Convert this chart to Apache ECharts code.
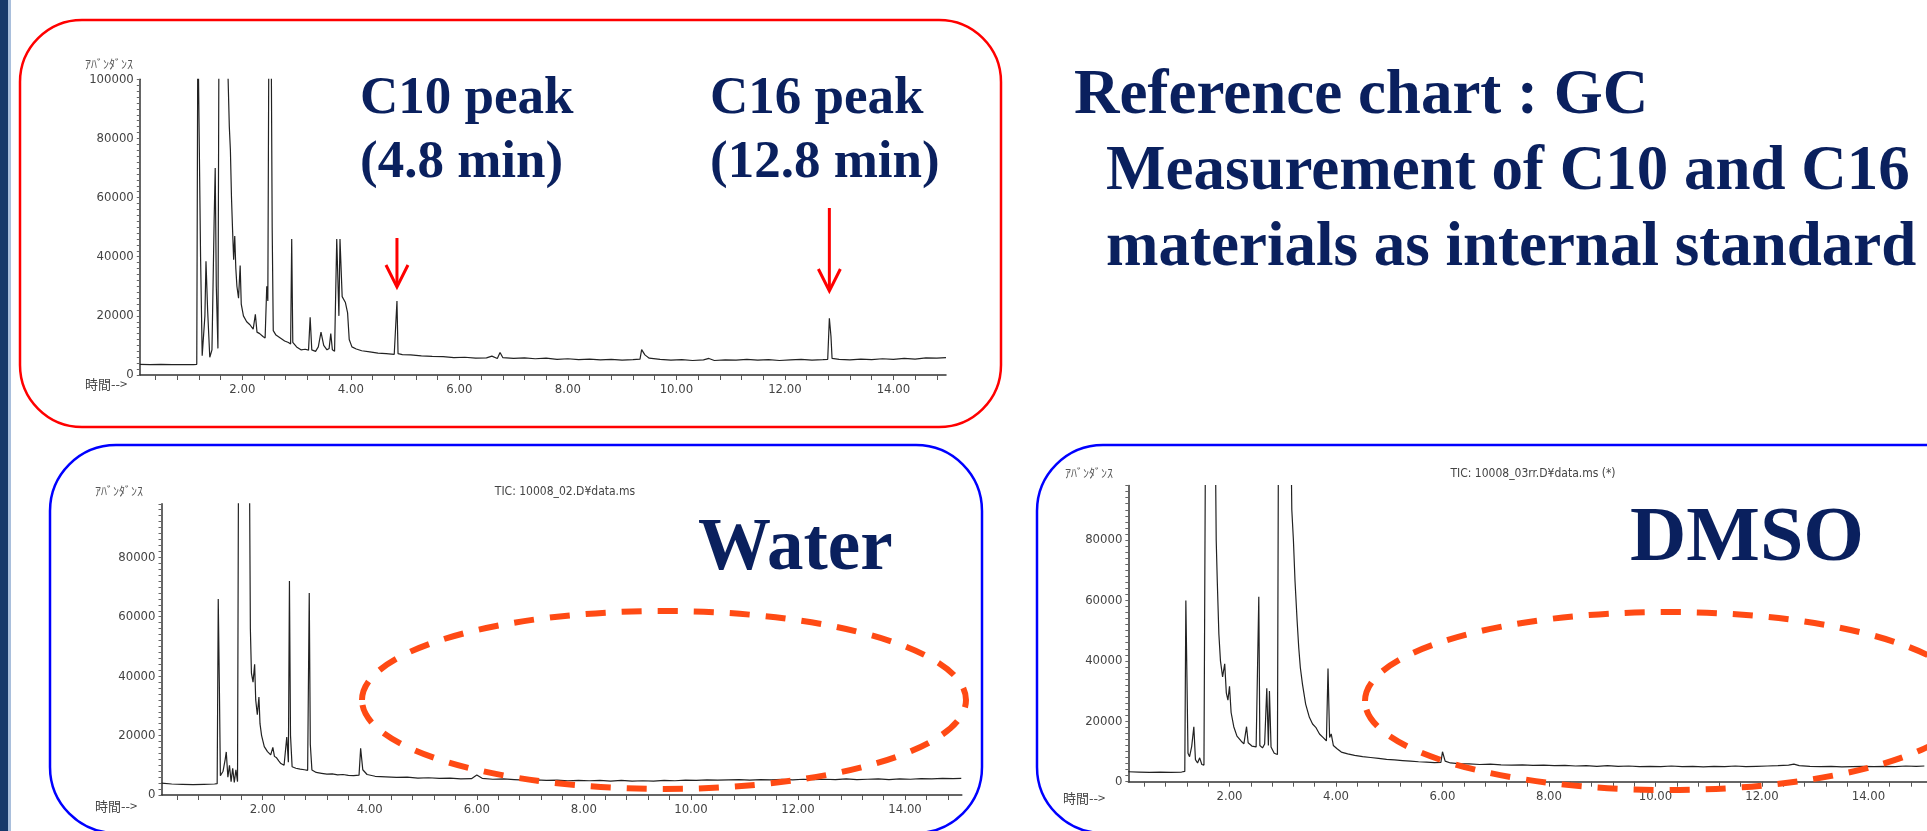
<!DOCTYPE html>
<html><head><meta charset="utf-8">
<script src="https://cdn.jsdelivr.net/npm/echarts@6/dist/echarts.min.js"></script>
<style>html,body{margin:0;padding:0;background:#fff;overflow:hidden}#c{width:1927px;height:831px}</style>
</head><body><div id="c"></div>
<script>
// ---- data: [retention time (min), abundance]; saturated (off-scale) peaks are given above the axis top ----
const refTrace = [[0.11,3600],[0.3,3500],[0.5,3600],[0.7,3500],[0.9,3550],[1.1,3500],[1.16,3600],[1.18,120000],[1.20,120000],[1.23,40000],[1.26,6500],[1.31,20000],[1.33,38500],[1.36,22000],[1.40,6000],[1.44,8500],[1.48,52000],[1.50,70000],[1.52,30000],[1.55,9000],[1.57,120000],[1.71,120000],[1.74,120000],[1.76,84000],[1.78,76000],[1.80,60000],[1.82,49000],[1.84,39000],[1.86,47000],[1.88,36000],[1.90,30000],[1.93,26000],[1.96,37000],[1.98,24000],[2.02,20000],[2.08,18000],[2.14,17000],[2.20,15500],[2.24,20500],[2.27,14500],[2.32,14000],[2.38,13000],[2.42,12500],[2.45,30000],[2.47,25000],[2.49,120000],[2.53,120000],[2.55,50000],[2.57,15000],[2.62,13500],[2.70,12500],[2.78,11500],[2.85,11000],[2.89,10500],[2.91,46000],[2.93,11000],[3.00,9500],[3.08,8500],[3.16,8700],[3.22,8400],[3.25,19500],[3.28,8500],[3.35,8000],[3.40,9500],[3.45,14500],[3.50,10000],[3.56,8500],[3.60,9000],[3.63,14000],[3.66,8500],[3.70,8000],[3.74,46000],[3.78,20000],[3.80,46000],[3.84,26500],[3.90,24500],[3.94,21000],[3.97,12000],[4.02,9500],[4.10,8800],[4.20,8200],[4.35,7800],[4.50,7400],[4.65,7200],[4.80,7000],[4.83,7100],[4.85,25000],[4.87,7200],[4.95,6900],[5.1,6800],[5.3,6500],[5.5,6300],[5.7,6200],[5.9,5900],[6.1,6000],[6.3,5700],[6.5,5800],[6.6,6400],[6.7,5600],[6.75,7600],[6.8,5900],[7.0,5600],[7.2,5800],[7.4,5500],[7.6,5700],[7.8,5300],[8.0,5500],[8.2,5200],[8.4,5400],[8.6,5100],[8.8,5300],[9.0,5000],[9.2,5200],[9.33,5400],[9.36,8600],[9.42,6800],[9.5,5700],[9.7,5300],[9.9,5000],[10.1,5200],[10.3,4900],[10.5,5100],[10.6,5600],[10.7,4900],[10.9,5100],[11.1,5000],[11.3,5300],[11.5,5000],[11.7,5200],[11.9,4900],[12.1,5100],[12.3,5300],[12.5,5000],[12.7,5200],[12.79,5300],[12.82,19200],[12.85,13000],[12.87,5600],[13.0,5300],[13.2,5100],[13.4,5400],[13.6,5200],[13.8,5500],[14.0,5300],[14.2,5600],[14.4,5400],[14.6,5800],[14.8,5700],[14.97,5900]];

const waterTrace = [[0.11,4000],[0.3,3700],[0.5,3600],[0.7,3500],[0.9,3600],[1.1,3700],[1.15,3800],[1.17,66000],[1.19,38000],[1.21,6500],[1.26,8000],[1.30,12000],[1.32,14500],[1.35,6000],[1.38,10000],[1.41,4500],[1.44,9000],[1.47,4200],[1.50,8500],[1.53,4500],[1.55,120000],[1.75,120000],[1.77,56000],[1.79,41000],[1.82,38000],[1.85,44000],[1.87,32000],[1.90,27000],[1.93,33000],[1.95,24000],[1.98,20000],[2.03,16300],[2.09,14600],[2.15,13500],[2.19,16000],[2.22,13000],[2.26,12500],[2.30,11500],[2.34,10600],[2.40,10000],[2.45,19500],[2.48,11000],[2.50,72000],[2.52,20000],[2.55,9500],[2.62,9000],[2.70,8700],[2.78,8500],[2.84,8300],[2.87,68000],[2.89,17000],[2.92,8400],[3.0,7600],[3.1,7300],[3.2,7000],[3.3,7100],[3.4,6800],[3.5,6900],[3.6,6600],[3.7,6500],[3.8,6700],[3.83,15700],[3.87,8500],[3.95,6900],[4.1,6300],[4.3,6100],[4.5,5900],[4.7,6000],[4.9,5700],[5.1,5800],[5.3,5600],[5.5,5700],[5.7,5400],[5.9,5500],[6.0,6700],[6.1,5600],[6.3,5300],[6.5,5400],[6.7,5200],[6.9,5000],[7.1,5100],[7.3,4900],[7.5,5000],[7.7,4800],[7.9,4900],[8.1,4800],[8.3,4900],[8.5,4700],[8.7,4900],[8.9,4700],[9.1,4800],[9.3,4700],[9.5,4900],[9.7,4800],[9.9,5000],[10.1,4900],[10.3,5100],[10.5,5000],[10.7,5100],[10.9,5200],[11.1,5000],[11.3,5200],[11.5,5100],[11.7,5300],[11.9,5100],[12.1,5300],[12.3,5200],[12.5,5300],[12.7,5200],[12.9,5400],[13.1,5200],[13.3,5300],[13.5,5400],[13.7,5200],[13.9,5400],[14.1,5300],[14.3,5500],[14.5,5400],[14.7,5600],[14.9,5500],[15.05,5600]];

const dmsoTrace = [[0.1,3300],[0.3,3200],[0.5,3100],[0.7,3200],[0.9,3100],[1.1,3200],[1.16,3400],[1.18,60000],[1.20,35000],[1.22,9400],[1.25,8300],[1.29,11700],[1.33,18200],[1.36,7300],[1.40,6200],[1.44,7900],[1.48,5700],[1.52,5500],[1.55,120000],[1.73,120000],[1.75,80000],[1.77,66500],[1.80,48900],[1.83,40000],[1.87,34700],[1.91,39000],[1.94,29400],[1.97,27000],[2.00,31600],[2.03,22900],[2.08,18200],[2.14,15100],[2.22,13400],[2.27,12500],[2.32,18200],[2.35,12900],[2.42,11800],[2.50,11500],[2.53,12000],[2.55,61200],[2.57,12000],[2.62,11200],[2.66,12500],[2.70,30900],[2.73,12000],[2.75,30000],[2.78,11500],[2.84,9400],[2.90,9000],[2.92,120000],[3.15,120000],[3.17,90000],[3.20,80000],[3.23,66500],[3.27,53200],[3.30,44400],[3.33,37800],[3.37,32300],[3.43,25700],[3.50,21300],[3.56,19100],[3.62,18000],[3.69,15800],[3.76,14600],[3.82,13500],[3.85,37500],[3.88,14600],[3.91,15800],[3.95,12000],[4.02,10900],[4.10,9800],[4.22,9200],[4.35,8700],[4.50,8300],[4.65,8000],[4.80,7700],[4.95,7400],[5.1,7200],[5.25,7000],[5.4,6800],[5.55,6600],[5.7,6500],[5.85,6300],[5.97,6400],[6.0,9900],[6.05,6800],[6.15,6200],[6.3,6000],[6.5,5900],[6.7,5700],[6.9,5800],[7.1,5600],[7.3,5500],[7.5,5600],[7.7,5400],[7.9,5500],[8.1,5300],[8.3,5400],[8.5,5200],[8.7,5300],[8.9,5100],[9.1,5300],[9.3,5100],[9.5,5200],[9.7,5000],[9.9,5100],[10.1,5000],[10.3,5200],[10.5,5000],[10.7,5100],[10.9,4900],[11.1,5100],[11.3,5000],[11.5,5200],[11.7,5000],[11.9,5100],[12.1,5200],[12.3,5300],[12.5,5500],[12.6,5800],[12.7,5300],[12.9,5100],[13.1,5000],[13.3,5100],[13.5,4900],[13.7,5000],[13.9,5100],[14.1,5000],[14.3,5100],[14.5,5000],[14.7,5200],[14.9,5100],[15.05,5200]];

// ---- tick labels ----
const xLabelValues = [2, 4, 6, 8, 10, 12, 14];
const yLabelsRef = [0, 20000, 40000, 60000, 80000, 100000];
const yLabelsSample = [0, 20000, 40000, 60000, 80000];
const peakTimes = [4.85, 12.82];   // C10, C16 internal standards
const xTickValues = [];
for (let i = 1; i <= 37; i++) xTickValues.push(+(i * 0.4).toFixed(1));
const yTickValues = [];
for (let v = 0; v <= 100000; v += 2000) yTickValues.push(v);

const NAVY = '#0A205E';
const smallFont = '"DejaVu Sans Condensed", "DejaVu Sans", sans-serif';
const cjkFont = '"Noto Sans CJK JP", sans-serif';
const serif = '"Liberation Serif", "Times New Roman", serif';

const grids = [
  {left: 139.8, right: 981, top: 79.3, bottom: 456},
  {left: 161.5, right: 965.2, top: 503.8, bottom: 36},
  {left: 1128.35, right: -3.9, top: 485.6, bottom: 49.3}
];
const xRanges = [[0.11, 14.97], [0.11, 15.06], [0.1, 15.1]];
const yMaxes = [100000, 98000, 98000];
const yLabelSets = [yLabelsRef, yLabelsSample, yLabelsSample];
const traces = [refTrace, waterTrace, dmsoTrace];

const xAxes = grids.map((g, i) => ({
  type: 'value', gridIndex: i, min: xRanges[i][0], max: xRanges[i][1],
  axisLine: {show: true, onZero: false, lineStyle: {color: '#333', width: 1.5}},
  axisTick: {show: true, customValues: xTickValues.filter(v => v <= xRanges[i][1]), length: 5, lineStyle: {color: '#555', width: 1}},
  axisLabel: {customValues: xLabelValues, formatter: v => v.toFixed(2), fontSize: 13, color: '#444', margin: 8, fontFamily: smallFont},
  splitLine: {show: false}
}));
const yAxes = grids.map((g, i) => ({
  type: 'value', gridIndex: i, min: 0, max: yMaxes[i],
  axisLine: {show: true, onZero: false, lineStyle: {color: '#333', width: 1.5}},
  axisTick: {show: true, customValues: yTickValues.filter(v => v <= yMaxes[i]), length: 3, lineStyle: {color: '#666', width: 1}},
  axisLabel: {customValues: yLabelSets[i], formatter: v => String(Math.round(v)), fontSize: 13, color: '#444', margin: 6, fontFamily: smallFont},
  splitLine: {show: false}
}));
const series = traces.map((d, i) => ({
  type: 'line', xAxisIndex: i, yAxisIndex: i, data: d, symbol: 'none', showSymbol: false,
  clip: true, lineStyle: {color: '#222', width: 1.2}, silent: true
}));

function txt(text, x, y, font, fill, align) {
  return {type: 'text', x: x, y: y, z: 100,
    style: {text: text, font: font, fill: fill, textAlign: align || 'left', align: align || 'left',
      textVerticalAlign: 'middle', verticalAlign: 'middle'}};
}

const chart = echarts.init(document.getElementById('c'), null, {renderer: 'canvas'});
const baseGraphics = [
  {type: 'rect', shape: {x: 0, y: 0, width: 8, height: 831}, style: {fill: '#17396A'}, z: 1},
  {type: 'rect', shape: {x: 8, y: 0, width: 3, height: 831}, style: {fill: '#A9BFDC'}, z: 1},
  {type: 'rect', shape: {x: 20, y: 20, width: 981, height: 407, r: 62}, style: {fill: 'none', stroke: '#FF0000', lineWidth: 2.5}, z: 1},
  {type: 'rect', shape: {x: 50, y: 445, width: 932, height: 388, r: 66}, style: {fill: 'none', stroke: '#0000FF', lineWidth: 2.5}, z: 1},
  {type: 'rect', shape: {x: 1037, y: 445, width: 960, height: 388, r: 66}, style: {fill: 'none', stroke: '#0000FF', lineWidth: 2.5}, z: 1},
  {type: 'ellipse', shape: {cx: 664, cy: 700, rx: 302, ry: 89}, style: {fill: 'none', stroke: '#FF4A14', lineWidth: 6, lineDash: [20, 16]}, z: 100},
  {type: 'ellipse', shape: {cx: 1668, cy: 701, rx: 303, ry: 89}, style: {fill: 'none', stroke: '#FF4A14', lineWidth: 6, lineDash: [20, 16]}, z: 100},
  txt('C10 peak', 360, 99, 'bold 53px ' + serif, NAVY),
  txt('(4.8 min)', 360, 163, 'bold 53px ' + serif, NAVY),
  txt('C16 peak', 710, 99, 'bold 53px ' + serif, NAVY),
  txt('(12.8 min)', 710, 163, 'bold 53px ' + serif, NAVY),
  txt('Reference chart : GC', 1074, 97, 'bold 63px ' + serif, NAVY),
  txt('Measurement of C10 and C16', 1106, 173, 'bold 63px ' + serif, NAVY),
  txt('materials as internal standard', 1106, 249, 'bold 63px ' + serif, NAVY),
  txt('Water', 698, 550, 'bold 73px ' + serif, NAVY),
  txt('DMSO', 1630, 540, 'bold 78px ' + serif, NAVY),
  txt('ｱﾊﾞﾝﾀﾞﾝｽ', 85, 64, '12px ' + cjkFont, '#555'),
  txt('ｱﾊﾞﾝﾀﾞﾝｽ', 95, 491, '12px ' + cjkFont, '#555'),
  txt('ｱﾊﾞﾝﾀﾞﾝｽ', 1065, 473, '12px ' + cjkFont, '#555'),
  txt('時間-->', 85, 384, '13px ' + cjkFont, '#444'),
  txt('時間-->', 95, 806, '13px ' + cjkFont, '#444'),
  txt('時間-->', 1063, 798, '13px ' + cjkFont, '#444'),
  txt('TIC: 10008_02.D¥data.ms', 565, 492, '12px ' + smallFont, '#444', 'center'),
  txt('TIC: 10008_03rr.D¥data.ms (*)', 1533, 474, '12px ' + smallFont, '#444', 'center')
];

chart.setOption({
  animation: false,
  backgroundColor: '#ffffff',
  textStyle: {fontFamily: smallFont},
  grid: grids,
  xAxis: xAxes,
  yAxis: yAxes,
  series: series,
  graphic: {elements: baseGraphics}
});

// arrows pointing at the internal-standard peaks (x from the axis scale)
const arrowSpans = [[238, 287], [208, 291]];
const arrowEls = [];
peakTimes.forEach((t, k) => {
  const px = chart.convertToPixel({xAxisIndex: 0}, t);
  const [y1, y2] = arrowSpans[k];
  arrowEls.push({type: 'line', z: 100, shape: {x1: px, y1: y1, x2: px, y2: y2 - 1}, style: {stroke: '#FF0000', lineWidth: 3}});
  arrowEls.push({type: 'polyline', z: 100, shape: {points: [[px - 11, y2 - 22], [px, y2], [px + 11, y2 - 22]]}, style: {fill: 'none', stroke: '#FF0000', lineWidth: 3}});
});
chart.setOption({graphic: {elements: baseGraphics.concat(arrowEls)}}, {replaceMerge: ['graphic']});
</script>
</body></html>
